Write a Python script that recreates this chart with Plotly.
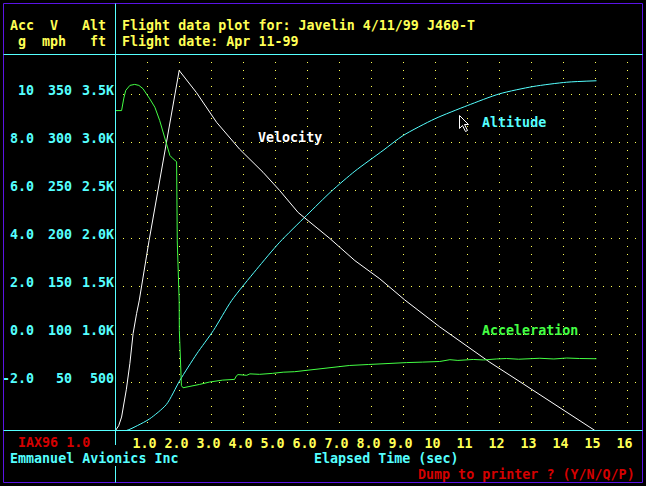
import plotly.graph_objects as go

# ---------------- data ----------------
time_ticks = [1, 2, 3, 4, 5, 6, 7, 8, 9, 10, 11, 12, 13, 14, 15, 16]
time_tick_text = ["1.0", "2.0", "3.0", "4.0", "5.0", "6.0", "7.0", "8.0", "9.0",
                  "10", "11", "12", "13", "14", "15", "16"]

alt_ticks = [500, 1000, 1500, 2000, 2500, 3000, 3500]
alt_tick_text = ["500", "1.0K", "1.5K", "2.0K", "2.5K", "3.0K", "3.5K"]
vel_ticks = [50, 100, 150, 200, 250, 300, 350]
vel_tick_text = ["50", "100", "150", "200", "250", "300", "350"]
acc_ticks = [-2, 0, 2, 4, 6, 8, 10]
acc_tick_text = ["-2.0", "0.0", "2.0", "4.0", "6.0", "8.0", "10"]

# Velocity (mph)
t_vel = [0, 0.10, 0.19, 0.34, 0.45, 0.55, 0.66, 0.74, 1.05, 1.50, 1.99, 2.53, 3.16,
         3.88, 4.61, 5.13, 5.71, 6.70, 7.48, 8.26, 9.04, 10.13, 10.97, 11.70, 12.74,
         13.78, 14.98]
velocity = [0, 5, 14, 43, 70, 101, 122, 135, 198, 283, 375, 352, 321,
            293, 269, 250, 227, 200, 177, 158, 136, 108, 88.5, 71, 48.6,
            26, 0]

# Altitude (ft)
t_alt = [0, 0.34, 0.69, 1.07, 1.59, 2.01, 2.54, 3.06, 3.63, 4.40, 5.13, 5.97, 6.75,
         7.48, 8.36, 8.99, 9.98, 11.0, 12.0, 13.05, 14.1, 15.03]
altitude = [0, 0, 52, 122, 271, 521, 799, 1042, 1354, 1675, 1961, 2240, 2493,
            2701, 2917, 3073, 3247, 3385, 3507, 3583, 3628, 3643]

# Acceleration (g)
t_acc = [0.00, 0.19, 0.26, 0.32, 0.45, 0.60, 0.73, 0.86, 1.07, 1.23, 1.38, 1.54,
         1.70, 1.80, 1.88, 1.91, 1.93, 1.99, 1.995, 2.06, 2.11, 2.30, 2.63, 2.94,
         3.35, 3.72, 3.78, 3.83, 4.10, 4.20, 4.50, 4.90, 5.24, 5.60, 5.80, 6.28,
         6.80, 7.32, 7.90, 8.50, 9.10, 9.60, 10.13, 10.45, 10.70, 11.18, 11.50,
         11.90, 12.22, 12.60, 13.00, 13.26, 13.70, 14.10, 14.50, 15.03]
acceleration = [9.33, 9.33, 9.85, 10.17, 10.38, 10.42, 10.38, 10.24, 9.82, 9.47, 8.92, 8.22,
                7.46, 7.32, 7.25, 7.20, 3.90, 1.40, 0.17, -2.13, -2.22, -2.18, -2.08, -1.98,
                -1.90, -1.87, -1.72, -1.67, -1.70, -1.64, -1.66, -1.62, -1.57, -1.55, -1.52, -1.43,
                -1.38, -1.29, -1.25, -1.20, -1.17, -1.15, -1.125, -1.05, -1.08, -1.04, -1.06,
                -1.02, -1.00, -1.03, -0.99, -0.99, -1.02, -0.98, -1.00, -1.01]

# ---------------- styling / layout ----------------
W, H = 646, 486
FONT = "DejaVu Sans Mono"
FS = 13.33
YELLOW = "#FFFF55"
CYAN = "#55FFFF"
GREEN = "#44FF44"
WHITE = "#FFFFFF"
RED = "#D40000"
PURPLE = "#5A14E6"


def px(x):
    return x / W


def py(y):
    return 1 - y / H


# pixel geometry
X0 = 115.5          # t = 0
PX_PER_S = 32.0
Y0 = 430.5          # zero line of altitude / velocity, acc = -4
PLOT_L, PLOT_R, PLOT_T, PLOT_B = 115, 641, 54, 431


def xr(p):
    return (p - X0) / PX_PER_S


alt_per_px = 500 / 48
vel_per_px = 50 / 48
acc_per_px = 2 / 48

fig = go.Figure()
fig.add_trace(go.Scatter(x=t_alt, y=altitude, mode="lines", yaxis="y",
                         line=dict(color=CYAN, width=1, shape="spline", smoothing=0.7),
                         hoverinfo="skip"))
fig.add_trace(go.Scatter(x=t_vel, y=velocity, mode="lines", yaxis="y2",
                         line=dict(color=WHITE, width=1), hoverinfo="skip"))
fig.add_trace(go.Scatter(x=t_acc, y=acceleration, mode="lines", yaxis="y3",
                         line=dict(color=GREEN, width=1), hoverinfo="skip"))

tickfont_c = dict(family=FONT, size=FS, color=CYAN, weight="bold")

fig.update_layout(
    width=W, height=H,
    margin=dict(l=0, r=0, t=0, b=0),
    paper_bgcolor="black", plot_bgcolor="black",
    showlegend=False,
    xaxis=dict(
        domain=[px(PLOT_L), px(PLOT_R)],
        range=[xr(PLOT_L), xr(PLOT_R)],
        tickmode="array", tickvals=time_ticks, ticktext=time_tick_text,
        showgrid=True, gridcolor=YELLOW, gridwidth=1, griddash="1px,7px",
        zeroline=False, showline=False, ticks="",
        tickfont=dict(family=FONT, size=FS, color=YELLOW, weight="bold"),
        ticklabelshift=-3, ticklabelstandoff=3,
        automargin=False, fixedrange=True,
    ),
    yaxis=dict(
        domain=[py(PLOT_B), py(PLOT_T)],
        range=[(Y0 - PLOT_B) * alt_per_px, (Y0 - PLOT_T) * alt_per_px],
        tickmode="array", tickvals=alt_ticks, ticktext=alt_tick_text,
        showgrid=True, gridcolor=YELLOW, gridwidth=1, griddash="1px,7px",
        zeroline=False, showline=False, ticks="",
        tickfont=tickfont_c, ticklabelshift=-4,
        automargin=False, fixedrange=True,
    ),
    yaxis2=dict(
        overlaying="y", anchor="free", position=px(72), side="left",
        range=[(Y0 - PLOT_B) * vel_per_px, (Y0 - PLOT_T) * vel_per_px],
        tickmode="array", tickvals=vel_ticks, ticktext=vel_tick_text,
        showgrid=False, zeroline=False, showline=False, ticks="",
        tickfont=tickfont_c, ticklabelshift=-4,
        automargin=False, fixedrange=True,
    ),
    yaxis3=dict(
        overlaying="y", anchor="free", position=px(34), side="left",
        range=[(Y0 - PLOT_B) * acc_per_px - 4, (Y0 - PLOT_T) * acc_per_px - 4],
        tickmode="array", tickvals=acc_ticks, ticktext=acc_tick_text,
        showgrid=False, zeroline=False, showline=False, ticks="",
        tickfont=tickfont_c, ticklabelshift=-4,
        automargin=False, fixedrange=True,
    ),
)

# frame lines
shapes = [
    dict(type="rect", xref="paper", yref="paper", x0=px(3.5), x1=px(642.5),
         y0=py(3.5), y1=py(482.5), line=dict(color=PURPLE, width=1)),
    dict(type="line", xref="paper", yref="paper", x0=px(3.5), x1=px(642.5),
         y0=py(54.5), y1=py(54.5), line=dict(color=CYAN, width=1)),
    dict(type="line", xref="paper", yref="paper", x0=px(3.5), x1=px(642.5),
         y0=py(430.5), y1=py(430.5), line=dict(color=CYAN, width=1)),
    dict(type="line", xref="paper", yref="paper", x0=px(115.5), x1=px(115.5),
         y0=py(3.5), y1=py(445), line=dict(color=CYAN, width=1)),
    dict(type="line", xref="paper", yref="paper", x0=px(115.5), x1=px(115.5),
         y0=py(466), y1=py(482.5), line=dict(color=CYAN, width=1)),
    # mouse pointer
    dict(type="path", xref="paper", yref="paper", xsizemode="pixel", ysizemode="pixel",
         xanchor=px(459.5), yanchor=py(115.5),
         path="M0,0 L0,-13 L3,-10 L6,-16 L8,-15 L5,-9 L9,-9 Z",
         fillcolor="black", line=dict(color=WHITE, width=1)),
]
fig.update_layout(shapes=shapes)

# texts: (text, left x px, center y px, color)
texts = [
    ("Acc", 10, 26, YELLOW), ("V", 50, 26, YELLOW), ("Alt", 82, 26, YELLOW),
    ("g", 18, 42, YELLOW), ("mph", 42, 42, YELLOW), ("ft", 90, 42, YELLOW),
    ("Flight data plot for: Javelin 4/11/99 J460-T", 122, 26, YELLOW),
    ("Flight date: Apr 11-99", 122, 42, YELLOW),
    ("IAX96 1.0", 18, 442, RED),
    ("Emmanuel Avionics Inc", 10, 458, CYAN),
    ("Elapsed Time (sec)", 314, 458, CYAN),
    ("Dump to printer ? (Y/N/Q/P)", 418, 474, RED),
    ("Velocity", 258, 138, WHITE),
    ("Altitude", 482, 122, CYAN),
    ("Acceleration", 482, 330, GREEN),
]
for txt, x, y, col in texts:
    fig.add_annotation(text=txt, xref="paper", yref="paper", x=px(x), y=py(y),
                       xanchor="left", yanchor="middle", showarrow=False,
                       borderpad=0, borderwidth=0,
                       font=dict(family=FONT, size=FS, color=col, weight="bold"))

fig.write_html("out.html", config={"displayModeBar": False},
               post_script="document.body.style.margin='0';")
